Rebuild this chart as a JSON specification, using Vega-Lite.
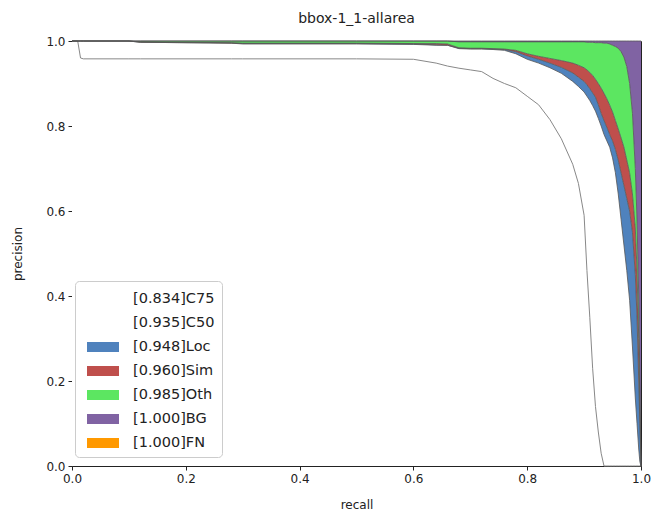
{
"$schema": "https://vega.github.io/schema/vega-lite/v6.json",
"width": 569, "height": 425,
"autosize": {"type": "none"},
"padding": {"left": 72, "top": 41, "right": 10, "bottom": 50},
"title": {"text": "bbox-1_1-allarea", "fontSize": 14, "fontWeight": "normal", "font": "DejaVu Sans", "color": "#222", "offset": 9},
"config": {
  "view": {"stroke": "#222", "strokeWidth": 1},
  "font": "DejaVu Sans",
  "axis": {"domain": false, "grid": false, "ticks": true, "tickColor": "#222", "tickSize": 4, "labelFont": "DejaVu Sans", "labelFontSize": 12, "labelColor": "#222", "titleFont": "DejaVu Sans", "titleFontSize": 12, "titleFontWeight": "normal", "titleColor": "#222", "labelPadding": 3, "labelFlush": false, "labelOverlap": false},
  "axisX": {"titlePadding": 15},
  "axisY": {"titlePadding": 21}
},
"data": {"values": [
{"r":0,"c75":1,"c50":1,"loc":1,"sim":1,"oth":1,"bg":1,"fn":1},
{"r":0.01,"c75":1,"c50":1,"loc":1,"sim":1,"oth":1,"bg":1,"fn":1},
{"r":0.015,"c75":0.96,"c50":1,"loc":1,"sim":1,"oth":1,"bg":1,"fn":1},
{"r":0.02,"c75":0.958,"c50":1,"loc":1,"sim":1,"oth":1,"bg":1,"fn":1},
{"r":0.1,"c75":0.958,"c50":1,"loc":1,"sim":1,"oth":1,"bg":1,"fn":1},
{"r":0.12,"c75":0.958,"c50":0.997,"loc":0.997,"sim":0.998,"oth":1,"bg":1,"fn":1},
{"r":0.28,"c75":0.958,"c50":0.995,"loc":0.995,"sim":0.996,"oth":1,"bg":1,"fn":1},
{"r":0.3,"c75":0.958,"c50":0.993,"loc":0.994,"sim":0.995,"oth":1,"bg":1,"fn":1},
{"r":0.5,"c75":0.958,"c50":0.993,"loc":0.994,"sim":0.995,"oth":1,"bg":1,"fn":1},
{"r":0.6,"c75":0.957,"c50":0.992,"loc":0.993,"sim":0.994,"oth":1,"bg":1,"fn":1},
{"r":0.64,"c75":0.948,"c50":0.99,"loc":0.991,"sim":0.994,"oth":1,"bg":1,"fn":1},
{"r":0.66,"c75":0.941,"c50":0.99,"loc":0.99,"sim":0.993,"oth":1,"bg":1,"fn":1},
{"r":0.68,"c75":0.936,"c50":0.982,"loc":0.983,"sim":0.984,"oth":0.998,"bg":1,"fn":1},
{"r":0.7,"c75":0.932,"c50":0.981,"loc":0.982,"sim":0.983,"oth":0.998,"bg":1,"fn":1},
{"r":0.72,"c75":0.928,"c50":0.981,"loc":0.982,"sim":0.983,"oth":0.998,"bg":1,"fn":1},
{"r":0.74,"c75":0.912,"c50":0.98,"loc":0.981,"sim":0.982,"oth":0.998,"bg":1,"fn":1},
{"r":0.76,"c75":0.9,"c50":0.978,"loc":0.98,"sim":0.981,"oth":0.998,"bg":1,"fn":1},
{"r":0.78,"c75":0.89,"c50":0.97,"loc":0.975,"sim":0.978,"oth":0.998,"bg":1,"fn":1},
{"r":0.8,"c75":0.87,"c50":0.957,"loc":0.965,"sim":0.97,"oth":0.998,"bg":1,"fn":1},
{"r":0.82,"c75":0.85,"c50":0.948,"loc":0.957,"sim":0.964,"oth":0.998,"bg":1,"fn":1},
{"r":0.84,"c75":0.815,"c50":0.937,"loc":0.948,"sim":0.959,"oth":0.998,"bg":1,"fn":1},
{"r":0.86,"c75":0.77,"c50":0.924,"loc":0.938,"sim":0.954,"oth":0.998,"bg":1,"fn":1},
{"r":0.88,"c75":0.71,"c50":0.905,"loc":0.925,"sim":0.948,"oth":0.998,"bg":1,"fn":1},
{"r":0.89,"c75":0.665,"c50":0.893,"loc":0.915,"sim":0.943,"oth":0.998,"bg":1,"fn":1},
{"r":0.9,"c75":0.59,"c50":0.88,"loc":0.905,"sim":0.937,"oth":0.998,"bg":1,"fn":1},
{"r":0.905,"c75":0.46,"c50":0.87,"loc":0.897,"sim":0.932,"oth":0.997,"bg":1,"fn":1},
{"r":0.91,"c75":0.35,"c50":0.86,"loc":0.888,"sim":0.926,"oth":0.997,"bg":1,"fn":1},
{"r":0.915,"c75":0.23,"c50":0.848,"loc":0.878,"sim":0.919,"oth":0.997,"bg":1,"fn":1},
{"r":0.92,"c75":0.14,"c50":0.835,"loc":0.868,"sim":0.91,"oth":0.996,"bg":1,"fn":1},
{"r":0.925,"c75":0.08,"c50":0.818,"loc":0.85,"sim":0.9,"oth":0.996,"bg":1,"fn":1},
{"r":0.93,"c75":0.03,"c50":0.8,"loc":0.83,"sim":0.889,"oth":0.996,"bg":1,"fn":1},
{"r":0.935,"c75":0,"c50":0.78,"loc":0.813,"sim":0.877,"oth":0.995,"bg":1,"fn":1},
{"r":0.94,"c75":0,"c50":0.765,"loc":0.797,"sim":0.864,"oth":0.995,"bg":1,"fn":1},
{"r":0.945,"c75":0,"c50":0.75,"loc":0.78,"sim":0.849,"oth":0.993,"bg":1,"fn":1},
{"r":0.95,"c75":0,"c50":0.725,"loc":0.765,"sim":0.833,"oth":0.99,"bg":1,"fn":1},
{"r":0.955,"c75":0,"c50":0.69,"loc":0.745,"sim":0.813,"oth":0.987,"bg":1,"fn":1},
{"r":0.96,"c75":0,"c50":0.64,"loc":0.72,"sim":0.793,"oth":0.983,"bg":1,"fn":1},
{"r":0.965,"c75":0,"c50":0.58,"loc":0.69,"sim":0.772,"oth":0.975,"bg":1,"fn":1},
{"r":0.97,"c75":0,"c50":0.52,"loc":0.66,"sim":0.75,"oth":0.962,"bg":1,"fn":1},
{"r":0.975,"c75":0,"c50":0.46,"loc":0.63,"sim":0.72,"oth":0.94,"bg":1,"fn":1},
{"r":0.98,"c75":0,"c50":0.39,"loc":0.6,"sim":0.69,"oth":0.9,"bg":1,"fn":1},
{"r":0.985,"c75":0,"c50":0.28,"loc":0.55,"sim":0.64,"oth":0.83,"bg":1,"fn":1},
{"r":0.99,"c75":0,"c50":0.16,"loc":0.45,"sim":0.56,"oth":0.7,"bg":1,"fn":1},
{"r":0.993,"c75":0,"c50":0.1,"loc":0.35,"sim":0.46,"oth":0.58,"bg":1,"fn":1},
{"r":0.996,"c75":0,"c50":0.04,"loc":0.2,"sim":0.3,"oth":0.4,"bg":1,"fn":1},
{"r":0.998,"c75":0,"c50":0.01,"loc":0.1,"sim":0.15,"oth":0.2,"bg":1,"fn":1},
{"r":1,"c75":0,"c50":0,"loc":0,"sim":0,"oth":0,"bg":1,"fn":1}
]},
"encoding": {
  "x": {"field": "r", "type": "quantitative", "title": "recall", "scale": {"domain": [0, 1], "nice": false}, "axis": {"values": [0, 0.2, 0.4, 0.6, 0.8, 1], "format": ".1f"}}
},
"layer": [
  {"mark": {"type": "area", "opacity": 1},
   "encoding": {
     "y": {"field": "c75", "type": "quantitative", "title": "precision", "scale": {"domain": [0, 1], "nice": false}, "axis": {"values": [0, 0.2, 0.4, 0.6, 0.8, 1], "format": ".1f"}},
     "y2": {"datum": 0},
     "color": {"datum": "[0.834]C75", "type": "nominal",
       "scale": {"domain": ["[0.834]C75", "[0.935]C50", "[0.948]Loc", "[0.960]Sim", "[0.985]Oth", "[1.000]BG", "[1.000]FN"], "range": ["#ffffff", "#ffffff", "#4f82bd", "#bf4f4c", "#5ce661", "#8063a3", "#ff9900"]},
       "legend": {"orient": "none", "legendX": 3, "legendY": 240, "title": null, "symbolType": "M-0.545,-0.4545L2.364,-0.4545L2.364,0.4545L-0.545,0.4545Z", "symbolSize": 484, "symbolStrokeWidth": 0, "symbolOpacity": 1, "labelFontSize": 14.5, "labelFont": "DejaVu Sans", "labelColor": "#222", "labelOffset": 29, "rowPadding": 6, "padding": 7, "fillColor": "white", "strokeColor": "#cccccc", "cornerRadius": 4, "labelLimit": 200}}
   }},
  {"mark": {"type": "area", "opacity": 1},
   "encoding": {"y": {"field": "c75", "type": "quantitative", "title": "precision"}, "y2": {"field": "c50"}, "color": {"datum": "[0.935]C50", "type": "nominal"}}},
  {"mark": {"type": "area", "opacity": 1},
   "encoding": {"y": {"field": "c50", "type": "quantitative", "title": "precision"}, "y2": {"field": "loc"}, "color": {"datum": "[0.948]Loc", "type": "nominal"}}},
  {"mark": {"type": "area", "opacity": 1},
   "encoding": {"y": {"field": "loc", "type": "quantitative", "title": "precision"}, "y2": {"field": "sim"}, "color": {"datum": "[0.960]Sim", "type": "nominal"}}},
  {"mark": {"type": "area", "opacity": 1},
   "encoding": {"y": {"field": "sim", "type": "quantitative", "title": "precision"}, "y2": {"field": "oth"}, "color": {"datum": "[0.985]Oth", "type": "nominal"}}},
  {"mark": {"type": "area", "opacity": 1},
   "encoding": {"y": {"field": "oth", "type": "quantitative", "title": "precision"}, "y2": {"field": "bg"}, "color": {"datum": "[1.000]BG", "type": "nominal"}}},
  {"mark": {"type": "area", "opacity": 1},
   "encoding": {"y": {"field": "bg", "type": "quantitative", "title": "precision"}, "y2": {"field": "fn"}, "color": {"datum": "[1.000]FN", "type": "nominal"}}},
  {"mark": {"type": "line", "color": "#888", "strokeWidth": 1}, "encoding": {"y": {"field": "c75", "type": "quantitative", "title": "precision"}}},
  {"mark": {"type": "line", "color": "#555", "strokeWidth": 0.8}, "encoding": {"y": {"field": "c50", "type": "quantitative", "title": "precision"}}},
  {"mark": {"type": "line", "color": "#555", "strokeWidth": 0.8}, "encoding": {"y": {"field": "loc", "type": "quantitative", "title": "precision"}}},
  {"mark": {"type": "line", "color": "#555", "strokeWidth": 0.8}, "encoding": {"y": {"field": "sim", "type": "quantitative", "title": "precision"}}},
  {"mark": {"type": "line", "color": "#555", "strokeWidth": 0.8}, "encoding": {"y": {"field": "oth", "type": "quantitative", "title": "precision"}}},
  {"mark": {"type": "line", "color": "#555", "strokeWidth": 0.8}, "encoding": {"y": {"field": "bg", "type": "quantitative", "title": "precision"}}}
]
}
